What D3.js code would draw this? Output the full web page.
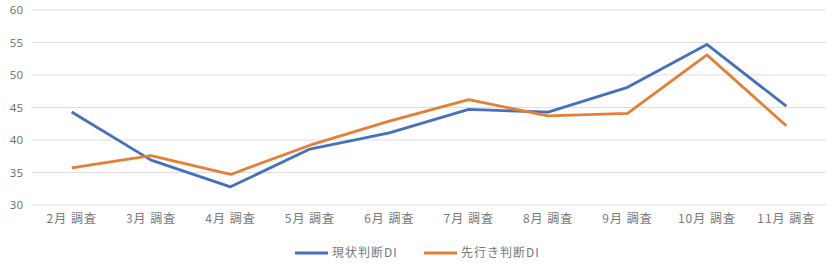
<!DOCTYPE html>
<html>
<head>
<meta charset="utf-8">
<script src="https://cdn.jsdelivr.net/npm/d3@7"></script>
<style>
  body { margin: 0; background: #fff; }
  text { font-family: "Noto Sans CJK JP", "Noto Sans", sans-serif; }
</style>
</head>
<body>
<div id="wrapper"></div>
<script>
const categories = ["2月 調査", "3月 調査", "4月 調査", "5月 調査", "6月 調査",
  "7月 調査", "8月 調査", "9月 調査", "10月 調査", "11月 調査"];
const currentDI = [44.3, 36.9, 32.8, 38.6, 41.1, 44.7, 44.3, 48.1, 54.7, 45.2];
const outlookDI = [35.7, 37.6, 34.7, 39.2, 42.9, 46.2, 43.7, 44.1, 53.1, 42.2];
const seriesNames = ["現状判断DI", "先行き判断DI"];
const yTicks = [30, 35, 40, 45, 50, 55, 60];

const width = 836, height = 268;
const colors = ["#4570bd", "#e57f35"];

const svg = d3.select("#wrapper").append("svg")
  .attr("width", width).attr("height", height);

const x = d3.scaleBand().domain(categories).range([32, 826]);
const y = d3.scaleLinear().domain([30, 60]).range([205, 10]);

// gridlines
svg.append("g").selectAll("line")
  .data(yTicks).enter().append("line")
  .attr("x1", 32).attr("x2", 826)
  .attr("y1", d => y(d)).attr("y2", d => y(d))
  .attr("stroke", "#dedede").attr("stroke-width", 1.2);

// y axis labels
const yAxis = svg.append("g")
  .attr("transform", "translate(23,0)")
  .call(d3.axisLeft(y).tickValues(yTicks).tickSize(0).tickPadding(0));
yAxis.select(".domain").remove();
yAxis.selectAll("text").attr("fill", "#6e6e6e").style("font-size", "11.5px")
  .style("font-family", "'Open Sans', sans-serif");

// x axis labels
const xAxis = svg.append("g")
  .attr("transform", "translate(0,214)")
  .call(d3.axisBottom(x).tickSize(0).tickPadding(0));
xAxis.select(".domain").remove();
xAxis.selectAll("text").attr("fill", "#777").style("font-size", "12px")
  .style("letter-spacing", "1px");

// lines
const series = [currentDI, outlookDI];
const line = d3.line()
  .x((d, i) => x(categories[i]) + x.bandwidth() / 2)
  .y(d => y(d));

svg.append("g").selectAll("path")
  .data(series).enter().append("path")
  .attr("d", d => line(d))
  .attr("fill", "none")
  .attr("stroke", (d, i) => colors[i])
  .attr("stroke-width", 2.8)
  .attr("stroke-linejoin", "round");

// legend
const legendX = [295, 424];
const legend = svg.append("g").selectAll("g")
  .data(seriesNames).enter().append("g")
  .attr("transform", (d, i) => `translate(${legendX[i]},253)`);
legend.append("line")
  .attr("x1", 0).attr("x2", 33)
  .attr("stroke", (d, i) => colors[i]).attr("stroke-width", 2.8);
legend.append("text")
  .attr("x", 37).attr("dy", "0.35em")
  .attr("fill", "#777").style("font-size", "12px")
  .style("letter-spacing", "1px")
  .text(d => d);
</script>
</body>
</html>
